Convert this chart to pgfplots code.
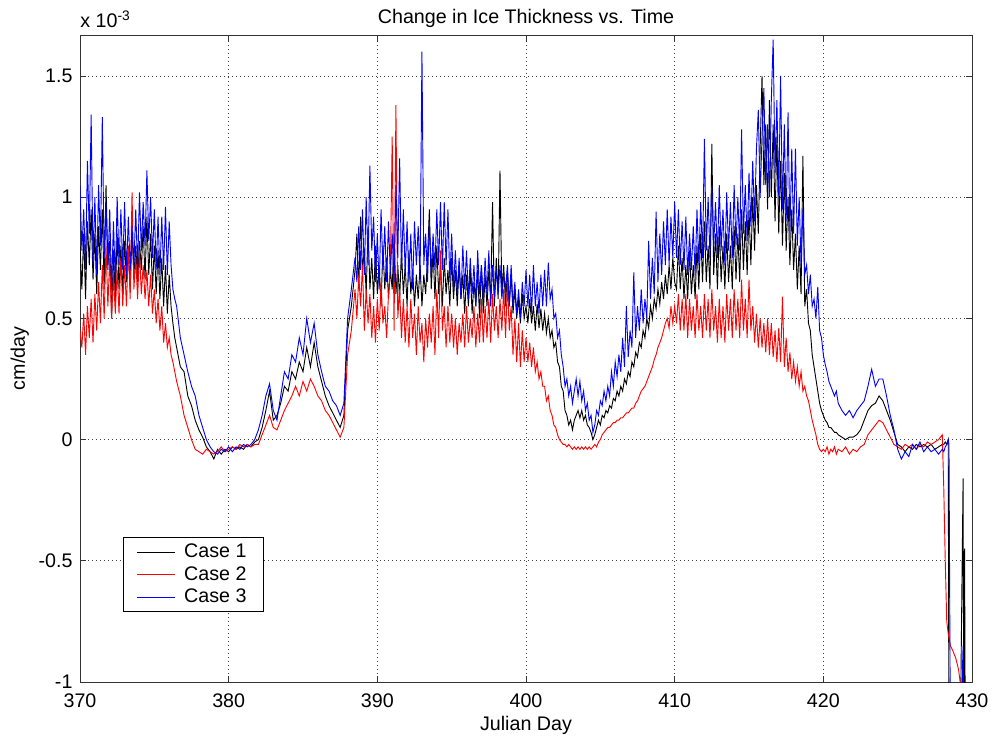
\documentclass[border=0pt]{standalone}
\usepackage{pgfplots}
\usepackage{pgfplotstable}
\pgfplotsset{compat=1.18}
\usepackage{fontspec}
\setmainfont{Liberation Sans}

% x, Case 1, Case 2, Case 3 (values in 1e-3 cm/day)
\pgfplotstableread{
x       c1    c2    c3
370.000 0.80  0.45  1.05
370.125 0.62  0.38  0.78
370.250 0.85  0.52  0.95
370.375 0.58  0.35  0.70
370.500 0.90  0.55  1.15
370.625 0.72  0.42  0.85
370.750 0.95  0.58  1.34
370.875 0.66  0.40  0.72
371.000 0.85  0.60  1.00
371.125 0.60  0.45  0.68
371.250 0.88  0.65  1.05
371.375 0.70  0.48  0.80
371.500 0.95  0.72  1.33
371.625 0.62  0.50  0.75
371.750 1.05  0.80  0.98
371.875 0.72  0.55  0.70
372.000 0.82  0.75  0.95
372.125 0.50  0.50  0.62
372.250 0.78  0.68  0.90
372.375 0.58  0.52  0.65
372.500 0.85  0.70  1.00
372.625 0.62  0.52  0.72
372.750 0.80  0.75  0.95
372.875 0.60  0.55  0.70
373.000 0.82  0.72  0.98
373.125 0.65  0.55  0.68
373.250 0.78  0.80  0.92
373.375 0.62  0.58  0.70
373.500 0.85  1.02  0.88
373.625 0.68  0.62  0.72
373.750 0.80  0.75  0.95
373.875 0.65  0.58  0.70
374.000 0.82  0.78  1.02
374.125 0.70  0.60  0.78
374.250 0.88  0.72  0.98
374.375 0.66  0.58  0.80
374.500 0.92  0.70  1.11
374.625 0.68  0.55  0.82
374.750 0.85  0.68  1.00
374.875 0.62  0.52  0.75
375.000 0.80  0.62  0.95
375.125 0.60  0.48  0.70
375.250 0.78  0.58  0.92
375.375 0.58  0.45  0.68
375.500 0.75  0.55  0.92
375.625 0.55  0.40  0.70
375.750 0.72  0.48  0.96
375.875 0.52  0.38  0.68
376.000 0.68  0.42  0.90
376.125 0.55  0.35  0.72
376.250 0.48  0.32  0.62
376.375 0.42  0.28  0.58
376.500 0.38  0.24  0.55
376.75 0.30  0.18  0.42
377.00 0.28  0.10  0.35
377.25 0.18  0.05  0.28
377.50 0.14  0.00  0.22
377.75 0.08 -0.04  0.18
378.00 0.04 -0.05  0.10
378.25 0.01 -0.06  0.05
378.50 -0.03 -0.04  0.00
378.75 -0.05 -0.05 -0.03
379.00 -0.08 -0.06 -0.05
379.25 -0.04 -0.05 -0.06
379.50 -0.06 -0.03 -0.04
379.75 -0.04 -0.05 -0.05
380.00 -0.05 -0.04 -0.03
380.25 -0.03 -0.03 -0.05
380.50 -0.04 -0.04 -0.03
380.75 -0.03 -0.02 -0.04
381.00 -0.04 -0.03 -0.02
381.25 -0.02 -0.02 -0.03
381.50 -0.03 -0.03 -0.02
381.75 -0.01 -0.02  0.00
382.00 0.00 -0.02  0.04
382.25 0.05  0.02  0.10
382.50 0.12  0.06  0.18
382.75 0.20  0.10  0.23
383.00 0.08  0.05  0.12
383.25 0.10  0.04  0.08
383.50 0.15  0.08  0.18
383.75 0.22  0.12  0.28
384.00 0.20  0.15  0.25
384.25 0.28  0.18  0.35
384.50 0.25  0.22  0.32
384.75 0.32  0.18  0.42
385.00 0.28  0.24  0.35
385.25 0.38  0.20  0.50
385.50 0.30  0.25  0.40
385.75 0.40  0.22  0.48
386.00 0.30  0.18  0.35
386.25 0.24  0.16  0.28
386.50 0.18  0.12  0.22
386.75 0.14  0.10  0.20
387.00 0.11  0.07  0.16
387.25 0.08  0.04  0.14
387.50 0.05  0.01  0.10
387.75 0.10  0.05  0.15
388.00 0.45  0.35  0.50
388.25 0.55  0.45  0.62
388.500 0.70  0.62  0.75
388.625 0.85  0.50  0.65
388.750 0.62  0.68  0.88
388.875 0.92  0.55  0.70
389.000 0.70  0.72  0.95
389.125 0.78  0.45  0.68
389.250 0.60  0.62  1.00
389.375 0.88  0.48  0.72
389.500 0.62  0.60  1.13
389.625 0.75  0.42  0.78
389.750 0.58  0.55  0.92
389.875 0.80  0.40  0.65
390.000 0.60  0.58  0.85
390.125 0.72  0.45  0.62
390.250 0.55  0.65  0.95
390.375 0.80  0.48  0.70
390.500 0.62  0.55  0.88
390.625 0.75  0.42  0.65
390.750 0.58  0.60  0.90
390.875 0.70  0.70  0.68
391.000 0.62  1.25  0.85
391.125 0.85  0.45  0.65
391.250 0.60  1.38  1.05
391.375 0.72  0.50  0.75
391.500 0.58  0.62  1.16
391.625 0.78  0.42  0.70
391.750 0.60  0.58  0.95
391.875 0.72  0.40  0.68
392.000 0.55  0.55  0.90
392.125 0.78  0.38  0.65
392.250 0.60  0.58  0.85
392.375 0.70  0.42  0.62
392.500 0.55  0.52  0.90
392.625 0.68  0.35  0.72
392.750 0.58  0.55  0.88
392.875 0.72  0.40  0.65
393.000 0.55  0.48  1.60
393.125 0.68  0.32  0.72
393.250 0.60  0.50  0.85
393.375 0.75  0.38  0.65
393.500 0.95  0.52  0.90
393.625 0.62  0.40  0.68
393.750 0.78  0.55  0.85
393.875 0.58  0.35  0.70
394.000 0.80  0.62  0.95
394.125 0.60  0.42  0.72
394.250 0.72  0.78  0.98
394.375 0.55  0.45  0.70
394.500 0.75  0.55  0.98
394.625 0.60  0.38  0.72
394.750 0.70  0.55  0.95
394.875 0.55  0.40  0.65
395.000 0.75  0.52  0.85
395.125 0.58  0.38  0.62
395.250 0.70  0.50  0.78
395.375 0.55  0.35  0.60
395.500 0.72  0.48  0.75
395.625 0.58  0.40  0.58
395.750 0.68  0.52  0.80
395.875 0.52  0.38  0.62
396.000 0.68  0.55  0.78
396.125 0.55  0.40  0.58
396.250 0.70  0.50  0.75
396.375 0.52  0.42  0.60
396.500 0.65  0.55  0.72
396.625 0.55  0.38  0.55
396.750 0.70  0.52  0.78
396.875 0.50  0.40  0.60
397.000 0.72  0.58  0.72
397.125 0.52  0.40  0.58
397.250 0.68  0.55  0.75
397.375 0.55  0.42  0.60
397.500 0.70  0.58  0.78
397.625 0.58  0.40  0.55
397.750 0.98  0.60  0.72
397.875 0.55  0.45  0.58
398.000 0.75  0.55  0.70
398.125 0.58  0.42  0.60
398.250 1.11  0.58  0.72
398.375 0.60  0.45  0.58
398.500 0.72  0.62  0.68
398.625 0.55  0.42  0.62
398.750 0.70  0.65  0.72
398.875 0.55  0.45  0.55
399.000 0.68  0.55  0.72
399.125 0.52  0.35  0.55
399.250 0.62  0.50  0.65
399.375 0.50  0.32  0.52
399.500 0.58  0.48  0.62
399.625 0.48  0.30  0.50
399.750 0.60  0.45  0.65
399.875 0.50  0.32  0.55
400.000 0.55  0.42  0.70
400.125 0.48  0.32  0.55
400.250 0.58  0.40  0.68
400.375 0.48  0.30  0.52
400.500 0.55  0.38  0.72
400.625 0.45  0.28  0.55
400.750 0.56  0.32  0.65
400.875 0.46  0.25  0.52
401.000 0.54  0.28  0.68
401.125 0.45  0.22  0.55
401.250 0.52  0.22  0.70
401.375 0.44  0.16  0.55
401.500 0.50  0.18  0.73
401.625 0.42  0.12  0.58
401.750 0.45  0.10  0.62
401.875 0.38  0.06  0.50
402.000 0.40  0.05  0.52
402.125 0.32  0.02  0.42
402.250 0.30  0.00  0.45
402.375 0.22 -0.01  0.35
402.500 0.20 -0.02  0.30
402.625 0.12 -0.02  0.22
402.750 0.10 -0.03  0.25
402.875 0.06 -0.02  0.18
403.000 0.08 -0.03  0.22
403.125 0.04 -0.04  0.15
403.250 0.08 -0.03  0.20
403.375 0.10 -0.04  0.25
403.500 0.12 -0.03  0.18
403.625 0.09 -0.04  0.24
403.750 0.12 -0.03  0.16
403.875 0.08 -0.04  0.20
404.000 0.10 -0.03  0.12
404.125 0.06 -0.04  0.15
404.250 0.05 -0.03  0.08
404.375 0.03 -0.04  0.10
404.500 0.00 -0.03  0.03
404.625 0.02 -0.02  0.06
404.750 0.05 -0.03  0.12
404.875 0.08 -0.01  0.10
405.000 0.06  0.00  0.16
405.125 0.10  0.02  0.14
405.250 0.09  0.03  0.20
405.375 0.12  0.04  0.16
405.500 0.11  0.05  0.22
405.625 0.14  0.05  0.18
405.750 0.13  0.06  0.28
405.875 0.17  0.07  0.22
406.000 0.16  0.07  0.32
406.125 0.20  0.08  0.26
406.250 0.18  0.08  0.35
406.375 0.22  0.09  0.28
406.500 0.20  0.09  0.42
406.625 0.25  0.10  0.30
406.750 0.23  0.11  0.55
406.875 0.28  0.11  0.34
407.000 0.26  0.12  0.45
407.125 0.32  0.13  0.38
407.250 0.30  0.13  0.69
407.375 0.36  0.15  0.42
407.500 0.34  0.16  0.55
407.625 0.40  0.18  0.45
407.750 0.38  0.20  0.62
407.875 0.45  0.21  0.48
408.000 0.42  0.22  0.58
408.125 0.50  0.24  0.50
408.250 0.46  0.26  0.82
408.375 0.55  0.28  0.58
408.500 0.50  0.30  0.75
408.625 0.58  0.33  0.60
408.750 0.54  0.35  0.94
408.875 0.62  0.38  0.65
409.000 0.56  0.40  0.85
409.125 0.65  0.42  0.68
409.250 0.58  0.45  0.90
409.375 0.68  0.48  0.72
409.500 0.60  0.50  0.95
409.625 0.72  0.46  0.72
409.750 0.62  0.55  0.92
409.875 0.75  0.48  0.75
410.000 0.65  0.55  0.98
410.125 0.62  0.48  0.75
410.250 0.80  0.60  0.95
410.375 0.62  0.45  0.72
410.500 0.75  0.58  0.90
410.625 0.58  0.45  0.70
410.750 0.72  0.60  0.92
410.875 0.58  0.42  0.68
411.000 0.78  0.58  0.85
411.125 0.60  0.45  0.70
411.250 0.72  0.55  0.88
411.375 0.58  0.42  0.68
411.500 0.80  0.60  0.95
411.625 0.62  0.45  0.72
411.750 0.85  0.55  0.98
411.875 0.65  0.42  0.75
412.000 0.90  0.60  1.24
412.125 0.65  0.45  0.78
412.250 0.80  0.58  1.00
412.375 0.62  0.42  0.75
412.500 1.22  0.62  1.05
412.625 0.68  0.45  0.80
412.750 0.85  0.55  0.98
412.875 0.62  0.40  0.75
413.000 0.88  0.58  1.05
413.125 0.65  0.42  0.78
413.250 0.80  0.55  0.95
413.375 0.62  0.40  0.72
413.500 0.85  0.60  1.02
413.625 0.65  0.45  0.78
413.750 0.80  0.58  0.98
413.875 0.62  0.42  0.75
414.000 0.88  0.62  1.05
414.125 0.66  0.45  0.80
414.250 0.85  0.58  1.00
414.375 0.65  0.42  0.78
414.500 0.95  0.66  1.28
414.625 0.70  0.45  0.85
414.750 0.90  0.58  1.05
414.875 0.68  0.42  0.82
415.000 0.95  0.66  1.10
415.125 0.72  0.45  0.88
415.250 1.00  0.55  1.15
415.375 0.78  0.40  0.90
415.500 1.05  0.52  1.20
415.625 0.85  0.38  1.36
415.750 1.20  0.50  1.00
415.875 1.50  0.38  1.25
416.000 1.05  0.48  1.45
416.125 1.30  0.36  1.05
416.250 0.95  0.50  1.30
416.375 1.40  0.35  1.00
416.500 1.00  0.48  1.40
416.625 1.30  0.34  1.65
416.750 0.90  0.45  1.10
416.875 1.25  0.32  1.40
417.000 0.85  0.46  1.00
417.125 1.15  0.32  1.50
417.250 0.80  0.59  0.95
417.375 1.10  0.30  1.30
417.500 0.78  0.42  0.90
417.625 1.00  0.28  1.35
417.750 0.72  0.36  0.85
417.875 0.95  0.25  1.20
418.000 0.70  0.32  0.85
418.125 0.85  0.24  1.20
418.250 0.62  0.30  0.80
418.375 0.80  0.22  1.00
418.500 0.60  0.28  0.72
418.625 1.17  0.20  0.95
418.750 0.55  0.22  0.68
418.875 0.62  0.18  0.72
419.000 0.48  0.16  0.60
419.125 0.45  0.12  0.68
419.250 0.35  0.08  0.55
419.375 0.30  0.05  0.58
419.500 0.25  0.02  0.50
419.625 0.20 -0.02  0.63
419.750 0.15 -0.04  0.45
419.875 0.12 -0.05  0.42
420.000 0.10 -0.04  0.35
420.125 0.08 -0.05  0.31
420.250 0.07 -0.03  0.28
420.375 0.05 -0.06  0.24
420.500 0.05 -0.04  0.22
420.625 0.04 -0.05  0.20
420.750 0.03 -0.03  0.18
420.875 0.03 -0.06  0.20
421.000 0.02 -0.04  0.15
421.25 0.01 -0.05  0.12
421.50 0.00 -0.03  0.10
421.75 0.01 -0.06  0.12
422.00 0.01 -0.04  0.09
422.25 0.02 -0.05  0.12
422.50 0.04 -0.03  0.14
422.75 0.08 -0.02  0.16
423.00 0.12  0.02  0.22
423.25 0.14  0.04  0.29
423.50 0.15  0.06  0.22
423.75 0.18  0.08  0.25
424.00 0.16  0.07  0.25
424.25 0.12  0.04  0.18
424.50 0.08  0.01  0.10
424.75 0.03 -0.02  0.04
425.00 -0.02 -0.03 -0.04
425.25 -0.03 -0.04 -0.08
425.50 -0.05 -0.02 -0.05
425.75 -0.03 -0.03 -0.07
426.00 -0.04 -0.02 -0.02
426.25 -0.02 -0.04 -0.04
426.50 -0.03 -0.02 -0.01
426.75 -0.02 -0.03 -0.05
427.00 -0.03 -0.01 -0.03
427.25 -0.02 -0.02 -0.05
427.50 -0.04 -0.01 -0.04
427.75 -0.03  0.00 -0.06
428.00 -0.02  0.02 -0.04
428.10 -0.02 -0.20 -0.05
428.20 -0.01 -0.50 -0.03
428.30 -0.02 -0.75 -0.02
428.40  0.00 -0.80  0.00
428.45 -1.30 -0.82 -0.02
428.55 -1.30 -0.85 -1.30
428.70 -1.30 -0.87 -1.30
428.90 -1.30 -0.90 -1.30
429.10 -1.30 -0.95 -1.30
429.20 -1.30 -1.00 -1.30
429.40 -0.16 -1.30 -0.85
429.45 -1.30 -1.30 -1.30
429.50 -0.45 -1.30 -1.30
429.55 -1.30 -1.30 -1.30
}\icedata

\begin{document}
\begin{tikzpicture}[font=\fontsize{11.8}{14}\selectfont]
\begin{axis}[
  name=ax,
  scale only axis,
  width=535.2pt, height=388.2pt,
  xmin=370, xmax=430,
  ymin=-1, ymax=1.669,
  xtick={370,380,...,430},
  ytick={-1,-0.5,0,0.5,1,1.5},
  yticklabels={-1,-0.5,0,0.5,1,1.5},
  /pgf/number format/assume math mode=true,
  grid=major,
  grid style={black!75, dotted, line width=0.45pt},
  tick align=inside,
  major tick length=3.5pt,
  tick style={black!80, line width=0.5pt},
  axis line style={black!80, line width=0.5pt},
  xticklabel style={yshift=-3.5pt},
  yticklabel style={xshift=-1pt},
  title={Change in Ice Thickness vs. Time},
  every axis title shift=0pt,
  title style={at={(axis description cs:0.5,1.018)}, anchor=base},
  xlabel={Julian Day},
  xlabel style={at={(axis description cs:0.5,-0.0742)}, anchor=base},
  ylabel={cm/day},
  ylabel style={at={(axis description cs:-0.0617,0.5)}, anchor=base},
  legend style={at={(0.048,0.224)}, anchor=north west, draw=black,
    line width=0.5pt, fill=white, inner xsep=8pt, inner ysep=2pt,
    row sep=-0.3pt, column sep=3pt, cells={anchor=west}},
  every axis plot/.append style={line width=0.55pt},
]
\addplot[draw=black, legend image code/.code={\draw[black, line width=0.6pt] (0pt,0pt) -- (23pt,0pt);}]
  table[x=x, y=c1] {\icedata};
\addplot[draw=red, legend image code/.code={\draw[red, line width=0.6pt] (0pt,0pt) -- (23pt,0pt);}]
  table[x=x, y=c2] {\icedata};
\addplot[draw=blue, legend image code/.code={\draw[blue, line width=0.6pt] (0pt,0pt) -- (23pt,0pt);}]
  table[x=x, y=c3] {\icedata};
\legend{Case 1, Case 2, Case 3}
\end{axis}
\node[anchor=base west, inner sep=0pt] at ([yshift=4.2pt]ax.north west) {x 10\textsuperscript{-3}};
\pgfresetboundingbox
\useasboundingbox ([xshift=-48pt,yshift=-33.6pt]ax.south west) rectangle ([xshift=12.6pt,yshift=21pt]ax.north east);
\end{tikzpicture}
\end{document}
